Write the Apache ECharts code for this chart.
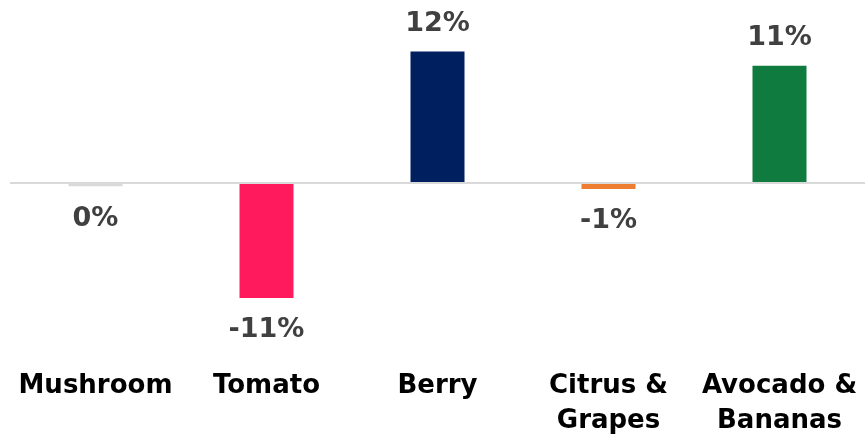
<!DOCTYPE html>
<html>
<head>
<meta charset="utf-8">
<script src="https://cdn.jsdelivr.net/npm/echarts@6/dist/echarts.min.js"></script>
<style>
html,body{margin:0;padding:0;background:#fff;}
#chart{width:867px;height:437px;}
</style>
</head>
<body>
<div id="chart"></div>
<script>
const categories = ['Mushroom', 'Tomato', 'Berry', 'Citrus &\nGrapes', 'Avocado &\nBananas'];
const values = [-0.35, -10.6, 12.0, -0.6, 10.7];
const colors = ['#d9d9d9', '#ff1a5e', '#001f5f', '#ed7d31', '#0f7b3e'];

const chart = echarts.init(document.getElementById('chart'));
const data = values.map((v, i) => ({
  value: v,
  itemStyle: { color: colors[i] },
  label: { position: v >= 0 ? 'top' : 'bottom', distance: v >= 0 ? 14 : 19 }
}));

chart.setOption({
  animation: false,
  grid: { left: 10, right: 2, top: 8, bottom: 102, containLabel: false, outerBoundsMode: 'none' },
  xAxis: {
    type: 'category',
    data: categories,
    axisLine: { show: false, onZero: false },
    axisTick: { show: false },
    axisLabel: {
      interval: 0,
      margin: 34,
      color: '#000',
      fontFamily: 'DejaVu Sans',
      fontWeight: 'bold',
      fontSize: 26,
      lineHeight: 35,
      verticalAlign: 'top'
    }
  },
  yAxis: {
    type: 'value',
    min: -14,
    max: 16,
    show: false,
    splitLine: { show: false }
  },
  series: [{
    type: 'bar',
    data: data,
    barWidth: 54,
    label: {
      show: true,
      color: '#404040',
      fontFamily: 'DejaVu Sans',
      fontWeight: 'bold',
      fontSize: 27,
      formatter: p => {
        const r = Math.round(p.value);
        return (r === 0 ? 0 : r) + '%';
      }
    },
    markLine: {
      silent: true,
      symbol: ['none', 'none'],
      label: { show: false },
      lineStyle: { color: '#d9d9d9', width: 2, type: 'solid' },
      data: [{ yAxis: 0 }]
    }
  }]
});
</script>
</body>
</html>
